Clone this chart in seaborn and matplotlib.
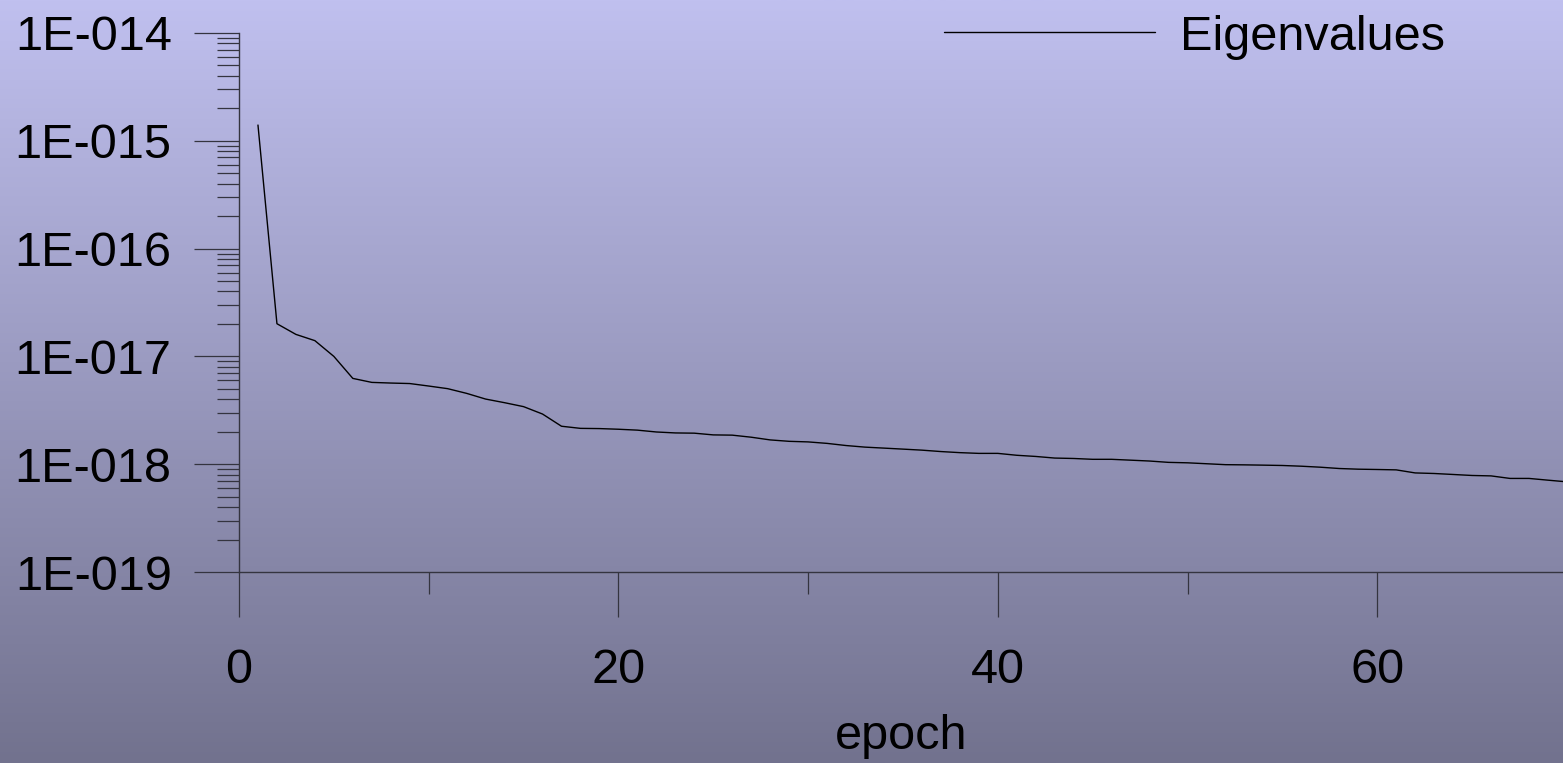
import numpy as np
import matplotlib
matplotlib.use("Agg")
import matplotlib.pyplot as plt
import matplotlib.ticker as mticker
import seaborn as sns

# values
epochs = list(range(1, 71))
eigenvalues = [
    1.40e-15, 2.01e-17, 1.60e-17, 1.40e-17, 1.00e-17, 6.25e-18, 5.74e-18, 5.66e-18,
    5.60e-18, 5.31e-18, 5.02e-18, 4.54e-18, 4.02e-18, 3.72e-18, 3.42e-18, 2.92e-18,
    2.25e-18, 2.15e-18, 2.14e-18, 2.11e-18, 2.07e-18, 1.99e-18, 1.95e-18, 1.94e-18,
    1.87e-18, 1.86e-18, 1.78e-18, 1.68e-18, 1.63e-18, 1.61e-18, 1.56e-18, 1.49e-18,
    1.44e-18, 1.41e-18, 1.38e-18, 1.35e-18, 1.31e-18, 1.28e-18, 1.26e-18, 1.26e-18,
    1.21e-18, 1.18e-18, 1.14e-18, 1.13e-18, 1.11e-18, 1.11e-18, 1.09e-18, 1.07e-18,
    1.04e-18, 1.03e-18, 1.01e-18, 0.99e-18, 0.986e-18, 0.98e-18, 0.973e-18, 0.958e-18,
    0.938e-18, 0.912e-18, 0.899e-18, 0.893e-18, 0.886e-18, 0.830e-18, 0.820e-18,
    0.803e-18, 0.786e-18, 0.779e-18, 0.738e-18, 0.738e-18, 0.711e-18, 0.686e-18,
]
x_major = [0, 20, 40, 60]
x_minor = [10, 30, 50, 70]
y_major = [1e-19, 1e-18, 1e-17, 1e-16, 1e-15, 1e-14]
series_label = "Eigenvalues"
x_title = "epoch"

sns.set_style("white")
plt.rcParams['font.family'] = ['Liberation Sans', 'DejaVu Sans']
plt.rcParams['text.color'] = 'black'
FS = 35
AXC = "#34343f"

fig = plt.figure(figsize=(15.63, 7.63), dpi=100)

# vertical gradient background
bg = fig.add_axes([0, 0, 1, 1], zorder=-1)
top = np.array([192, 192, 239]) / 255
bottom = np.array([114, 114, 142]) / 255
t = np.linspace(0, 1, 256)[:, None]
grad = top + (bottom - top) * t
bg.imshow(grad[:, None, :], aspect="auto", extent=[0, 1, 0, 1])
bg.axis("off")

ax = fig.add_axes([239 / 1563, 191 / 763, 1324 / 1563, 539 / 763])
ax.patch.set_alpha(0)

sns.lineplot(x=epochs, y=eigenvalues, ax=ax, color="black", linewidth=1.0,
             label=series_label)
ax.set_yscale("log")
ax.set_ylim(1e-19, 1e-14)
ax.set_xlim(0, 1324 / 18.97)

# log minor ticks: 2..9 inside every decade
y_minor = [m * d for d in y_major[:-1] for m in range(2, 10)]

ax.xaxis.set_major_locator(mticker.FixedLocator(x_major))
ax.xaxis.set_minor_locator(mticker.FixedLocator(x_minor))
ax.yaxis.set_major_locator(mticker.FixedLocator(y_major))
ax.yaxis.set_minor_locator(mticker.FixedLocator(y_minor))
ax.yaxis.set_minor_formatter(mticker.NullFormatter())
ax.yaxis.set_major_formatter(mticker.FuncFormatter(
    lambda v, p: "1E-%03d" % int(round(-np.log10(v)))))

for side in ["top", "right"]:
    ax.spines[side].set_visible(False)
for side in ["left", "bottom"]:
    ax.spines[side].set_color(AXC)
    ax.spines[side].set_linewidth(1.0)

ax.tick_params(which="both", bottom=True, left=True, top=False, right=False)
ax.tick_params(which="major", direction="out", length=32.5, width=0.9,
               color=AXC, labelsize=FS, labelcolor="black")
ax.tick_params(which="minor", direction="out", length=16, width=0.9, color=AXC)
ax.tick_params(axis="y", which="major", pad=16)
ax.tick_params(axis="x", which="major", pad=22)

ax.set_xlabel(x_title, fontsize=FS, color="black", labelpad=15)
ax.set_ylabel("")

leg = ax.legend(loc="center left", bbox_to_anchor=(944 / 1563, 1 - 37 / 763),
                bbox_transform=fig.transFigure, frameon=False, fontsize=FS,
                borderpad=0, borderaxespad=0, handlelength=4.35,
                handletextpad=0.5, labelcolor="black")
for line in leg.get_lines():
    line.set_linewidth(1.0)

fig.savefig("out.png", dpi=100)
